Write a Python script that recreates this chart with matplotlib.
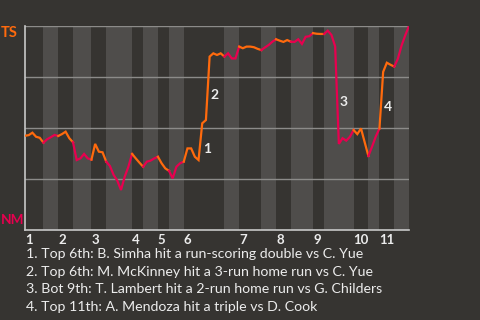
import matplotlib

matplotlib.use("Agg")
import matplotlib.pyplot as plt

# TS win probability after each plate appearance (0 = NM wins, 1 = TS wins)
win_prob = [
    0.462, 0.465, 0.477, 0.457, 0.452, 0.428,
    0.445, 0.455, 0.466, 0.461,
    0.470, 0.482, 0.450, 0.430,
    0.343, 0.351, 0.373, 0.351, 0.345,
    0.422, 0.384, 0.381, 0.335,
    0.314, 0.270, 0.242, 0.196, 0.261, 0.310, 0.373,
    0.351, 0.330, 0.310,
    0.335, 0.340, 0.351, 0.359,
    0.327, 0.302, 0.290,
    0.253, 0.310, 0.327, 0.335,
    0.400, 0.400, 0.359, 0.343, 0.523, 0.539, 0.850, 0.866, 0.858, 0.866, 0.850,
    0.866, 0.841, 0.841, 0.899,
    0.891, 0.899, 0.899, 0.896, 0.888, 0.882,
    0.895, 0.907, 0.923, 0.935,
    0.928, 0.922, 0.931, 0.923,
    0.922, 0.935, 0.912, 0.947, 0.950, 0.965,
    0.962, 0.961, 0.961,
    0.977, 0.956, 0.900, 0.422, 0.450, 0.438, 0.457, 0.490,
    0.470, 0.498, 0.430, 0.363,
    0.409, 0.458, 0.498,
    0.775, 0.820, 0.810, 0.801,
    0.840, 0.905, 0.955, 1.000,
]

# plate appearance index where each half inning starts (last value = end of game)
half_starts = [0, 5, 9, 13, 18, 22, 29, 32, 36, 39, 43, 54, 58, 64, 68, 72, 78, 81, 89, 93, 96, 100, 104]
inning_labels = ["1", "2", "3", "4", "5", "6", "7", "8", "9", "10", "11"]

event_index = [48, 50, 85, 97]
event_labels = ["1", "2", "3", "4"]
event_notes = [
    "1. Top 6th: B. Simha hit a run-scoring double vs C. Yue",
    "2. Top 6th: M. McKinney hit a 3-run home run vs C. Yue",
    "3. Bot 9th: T. Lambert hit a 2-run home run vs G. Childers",
    "4. Top 11th: A. Mendoza hit a triple vs D. Cook",
]

BG = "#363431"
STRIPE = "#4f4d4b"
TOP_COLOR = "#ff6a0d"
BOT_COLOR = "#e8004f"
TEXT = "#ececec"

plt.rcParams["font.family"] = ["Lato", "DejaVu Sans"]

fig = plt.figure(figsize=(4.8, 3.2), dpi=100, facecolor=BG)
ax = fig.add_axes([25 / 480, 90 / 320, 384 / 480, 204 / 320], facecolor=BG)

# lighter stripes for the bottom halves
for i in range(1, len(half_starts) - 1, 2):
    ax.axvspan(half_starts[i], half_starts[i + 1], color=STRIPE, lw=0, zorder=0)

for level in (0.25, 0.5, 0.75, 1.0):
    ax.axhline(level, color="#8c8b89", lw=1, zorder=1)

for i in range(len(half_starts) - 1):
    start, end = half_starts[i], half_starts[i + 1]
    xs = list(range(start, end + 1))
    ax.plot(xs, win_prob[start:end + 1], color=TOP_COLOR if i % 2 == 0 else BOT_COLOR,
            lw=1.6, solid_joinstyle="miter", zorder=3)

for idx, label in zip(event_index, event_labels):
    mid = (win_prob[idx - 1] + win_prob[idx]) / 2
    ax.text(idx + 0.3, mid - 0.035, label, color=TEXT, fontsize=10, fontweight="bold",
            ha="left", va="center", zorder=4)

ax.set_xlim(half_starts[0], half_starts[-1])
ax.set_ylim(0, 1)
ax.set_yticks([])
ax.set_xticks(half_starts[:-1:2])
ax.set_xticklabels(inning_labels, color=TEXT, fontsize=9.5, fontweight="bold", ha="left")
ax.tick_params(axis="x", length=0, pad=3)

for side in ("top", "right"):
    ax.spines[side].set_visible(False)
for side in ("left", "bottom"):
    ax.spines[side].set_color("#c8c8c8")
    ax.spines[side].set_linewidth(1.2)

fig.text(1 / 480, 1 - 33 / 320, "TS", color=TOP_COLOR, fontsize=10.5,
         fontweight="bold", ha="left", va="center")
fig.text(1 / 480, 1 - 220 / 320, "NM", color=BOT_COLOR, fontsize=9.8,
         fontweight="bold", ha="left", va="center")

for row, note in enumerate(event_notes):
    fig.text(26 / 480, 1 - (254 + row * 17.7) / 320, note, color=TEXT, fontsize=10.2,
             ha="left", va="center")

fig.savefig("out.png", dpi=100, facecolor=BG)
